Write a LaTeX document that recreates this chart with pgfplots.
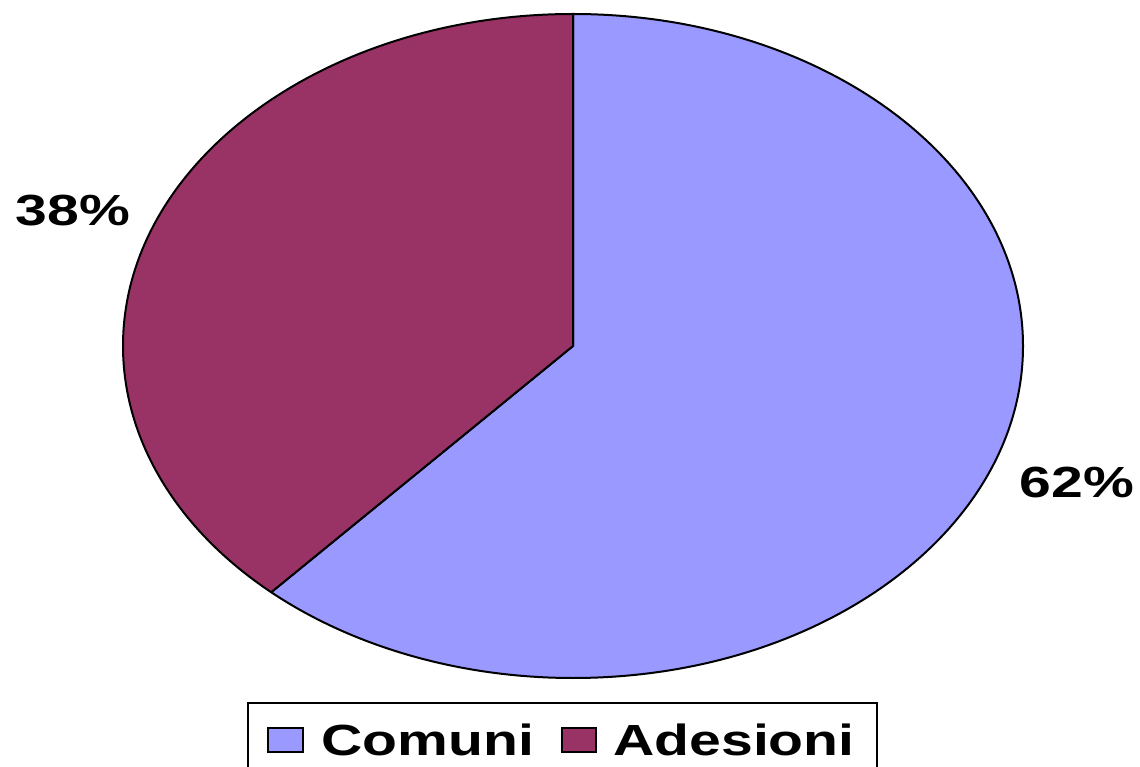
\documentclass[border=0pt]{standalone}
\usepackage{pgfplots}
\pgfplotsset{compat=1.18}
\usepackage{pgfplotstable}
\usepackage{graphicx}
\usepackage{fontspec}
\setmainfont{Liberation Sans}
\definecolor{comuni}{HTML}{9999FF}
\definecolor{adesioni}{HTML}{993366}

\pgfplotstableread{
name     val
Comuni   61.7
Adesioni 38.3
}\pietab

\newcommand{\lbl}[1]{\scalebox{1.31}[1]{\fontsize{21.8}{24}\selectfont\bfseries #1}}

\begin{document}
\begin{tikzpicture}
\pgfplotstablegetelem{0}{val}\of\pietab \let\vA\pgfplotsretval
\pgfplotstablegetelem{1}{val}\of\pietab \let\vB\pgfplotsretval
\pgfmathsetmacro\endA{90-3.6*\vA}
\pgfmathsetmacro\endB{90+3.6*\vB}
\begin{axis}[
    hide axis,
    scale only axis,
    width=570pt, height=383pt,
    xmin=0, xmax=1140, ymin=-766, ymax=0,
    enlargelimits=false,
    clip=false,
]
\path (axis cs:0,0) rectangle (axis cs:1140,-766);
% pie wedges (ellipse centre 573,-346; radii 450 x 332 px)
\filldraw[fill=comuni, draw=black, line width=1pt, line join=round]
    (axis cs:573,-346) -- (axis cs:573,-14)
    arc[start angle=90, end angle=\endA, x radius=225pt, y radius=166pt] -- cycle;
\filldraw[fill=adesioni, draw=black, line width=1pt, line join=round]
    (axis cs:573,-346) -- (axis cs:573,-14)
    arc[start angle=90, end angle=\endB, x radius=225pt, y radius=166pt] -- cycle;
% percentage labels
\node[anchor=base, inner sep=0] at (axis cs:73,-226) {\lbl{38\%}};
\node[anchor=base, inner sep=0] at (axis cs:1077,-498) {\lbl{62\%}};
% legend
\draw[overlay, line width=1pt, fill=white] (axis cs:248,-703) rectangle (axis cs:877,-800);
\filldraw[fill=comuni, draw=black, line width=1pt] (axis cs:268,-728) rectangle (axis cs:303,-752);
\node[anchor=base west, inner sep=0] at (axis cs:321,-755) {\lbl{Comuni}};
\filldraw[fill=adesioni, draw=black, line width=1pt] (axis cs:562,-728) rectangle (axis cs:596,-752);
\node[anchor=base west, inner sep=0] at (axis cs:613,-755) {\lbl{Adesioni}};
\end{axis}
\end{tikzpicture}
\end{document}
